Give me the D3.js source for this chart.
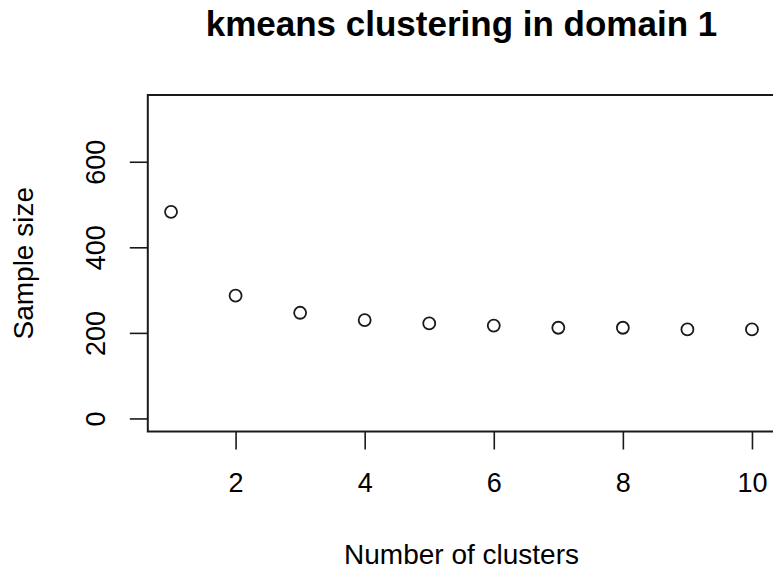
<!DOCTYPE html>
<html>
<head>
<meta charset="utf-8">
<script src="https://cdn.jsdelivr.net/npm/d3@7"></script>
<style>
  html, body { margin: 0; padding: 0; background: #fff; }
  svg { display: block; font-family: "Liberation Sans", Arial, sans-serif; }
</style>
</head>
<body>
<svg id="chart" width="773" height="572"></svg>
<script>
// ---- data ----
const clusters = [1, 2, 3, 4, 5, 6, 7, 8, 9, 10];
const sampleSize = [483, 287, 247, 230, 222, 217, 212, 212, 208, 208];
const xTicks = [2, 4, 6, 8, 10];
const yTicks = [0, 200, 400, 600];
const titleText = "kmeans clustering in domain 1";
const xLabel = "Number of clusters";
const yLabel = "Sample size";

// ---- layout ----
const W = 773, H = 572;
const plot = { left: 147.8, right: 775.2, top: 95, bottom: 431.5 };
const ink = "#1a1a1a";

const svg = d3.select("#chart");

const x = d3.scaleLinear().domain([0.64, 10.36]).range([plot.left, plot.right]);
const y = d3.scaleLinear().domain([-30.5, 756]).range([plot.bottom, plot.top]);

// title
svg.append("text")
  .attr("x", (plot.left + plot.right) / 2)
  .attr("y", 36)
  .attr("text-anchor", "middle")
  .attr("font-size", 35)
  .attr("font-weight", "bold")
  .attr("fill", "#000")
  .text(titleText);

// x axis
const xAxis = d3.axisBottom(x).tickValues(xTicks).tickSize(18).tickPadding(0).tickFormat(d3.format("d"));
const gx = svg.append("g").attr("transform", `translate(0,${plot.bottom})`).call(xAxis);
gx.select(".domain").remove();
gx.selectAll(".tick line").attr("stroke", ink).attr("stroke-width", 1.6);
gx.selectAll(".tick text")
  .attr("font-size", 27).attr("fill", "#000").attr("font-family", "Liberation Sans, Arial, sans-serif")
  .attr("dy", null).attr("y", 60);

// y axis
const yAxis = d3.axisLeft(y).tickValues(yTicks).tickSize(18).tickPadding(0);
const gy = svg.append("g").attr("transform", `translate(${plot.left},0)`).call(yAxis);
gy.select(".domain").remove();
gy.selectAll(".tick line").attr("stroke", ink).attr("stroke-width", 1.6);
gy.selectAll(".tick text")
  .attr("font-size", 27).attr("fill", "#000").attr("font-family", "Liberation Sans, Arial, sans-serif")
  .attr("x", null).attr("dy", null)
  .attr("text-anchor", "middle")
  .attr("transform", "translate(-43,0) rotate(-90)");

// plot box
svg.append("rect")
  .attr("x", plot.left).attr("y", plot.top)
  .attr("width", plot.right - plot.left).attr("height", plot.bottom - plot.top)
  .attr("fill", "none").attr("stroke", ink).attr("stroke-width", 2);

// points
svg.append("g").selectAll("circle")
  .data(clusters)
  .join("circle")
  .attr("cx", d => x(d))
  .attr("cy", (d, i) => y(sampleSize[i]))
  .attr("r", 6)
  .attr("fill", "none")
  .attr("stroke", ink)
  .attr("stroke-width", 1.8);

// axis titles
svg.append("text")
  .attr("x", (plot.left + plot.right) / 2)
  .attr("y", 564)
  .attr("text-anchor", "middle")
  .attr("font-size", 28)
  .attr("fill", "#000")
  .text(xLabel);

svg.append("text")
  .attr("transform", `translate(33,${(plot.top + plot.bottom) / 2}) rotate(-90)`)
  .attr("text-anchor", "middle")
  .attr("font-size", 28)
  .attr("fill", "#000")
  .text(yLabel);
</script>
</body>
</html>
